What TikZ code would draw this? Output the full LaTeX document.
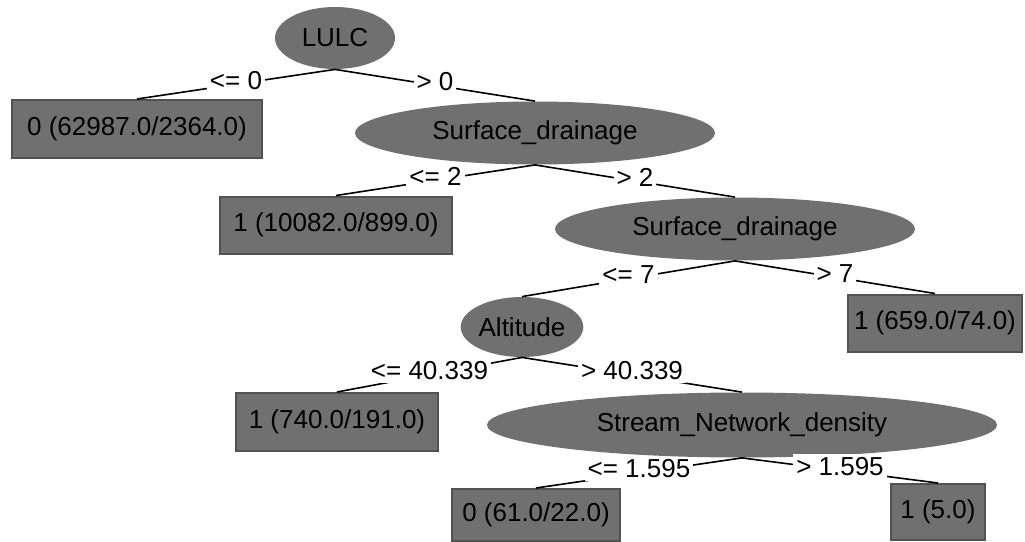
\documentclass[tikz,border=0pt]{standalone}
\usepackage{fontspec}
\setmainfont{Liberation Sans}
\usetikzlibrary{shapes.geometric}
\definecolor{nodegray}{RGB}{112,112,112}
\definecolor{rimgray}{RGB}{82,82,82}

\begin{document}
\begin{tikzpicture}
    [x=0.5pt,y=-0.5pt,font=\fontsize{13}{16}\selectfont,
    split/.style={ellipse,fill=nodegray,inner sep=0pt},
    leaf/.style={rectangle,fill=nodegray,draw=rimgray,line width=1pt,inner sep=0pt},
    cond/.style={fill=white,inner sep=1.5pt,yshift=2pt},
    branch/.style={draw=black,line width=0.8pt}]
    \useasboundingbox (0,0) rectangle (1025,542);
    % split nodes
    \node[split,minimum width=60pt,minimum height=31pt] (lulc) at (335,38) {LULC};
    \node[split,minimum width=180pt,minimum height=31.5pt] (drain1) at (535,133) {Surface\_drainage};
    \node[split,minimum width=180pt,minimum height=31.5pt] (drain2) at (735,229) {Surface\_drainage};
    \node[split,minimum width=60pt,minimum height=30pt] (alt) at (522,327) {Altitude};
    \node[split,minimum width=255pt,minimum height=32.5pt] (stream) at (742,425) {Stream\_Network\_density};
    % leaves
    \node[leaf,minimum width=125pt,minimum height=29pt] (leafa) at (137,129) {0 (62987.0/2364.0)};
    \node[leaf,minimum width=116pt,minimum height=28.5pt] (leafb) at (336,225) {1 (10082.0/899.0)};
    \node[leaf,minimum width=87pt,minimum height=28.5pt] (leafc) at (935,323) {1 (659.0/74.0)};
    \node[leaf,minimum width=101pt,minimum height=29pt] (leafd) at (337,422) {1 (740.0/191.0)};
    \node[leaf,minimum width=84pt,minimum height=26pt] (leafe) at (536,515) {0 (61.0/22.0)};
    \node[leaf,minimum width=47pt,minimum height=28pt] (leaff) at (938,512) {1 (5.0)};
    % branches
    \draw[branch] (lulc.south) -- node[cond] {<= 0} (leafa.north);
    \draw[branch] (lulc.south) -- node[cond] {> 0} (drain1.north);
    \draw[branch] (drain1.south) -- node[cond] {<= 2} (leafb.north);
    \draw[branch] (drain1.south) -- node[cond] {> 2} (drain2.north);
    \draw[branch] (drain2.south) -- node[cond] {<= 7} (alt.north);
    \draw[branch] (drain2.south) -- node[cond] {> 7} (leafc.north);
    \draw[branch] (alt.south) -- node[cond] {<= 40.339} (leafd.north);
    \draw[branch] (alt.south) -- node[cond] {> 40.339} (stream.north);
    \draw[branch] (stream.south) -- node[cond] {<= 1.595} (leafe.north);
    \draw[branch] (stream.south) -- node[cond] {> 1.595} (leaff.north);
\end{tikzpicture}
\end{document}
